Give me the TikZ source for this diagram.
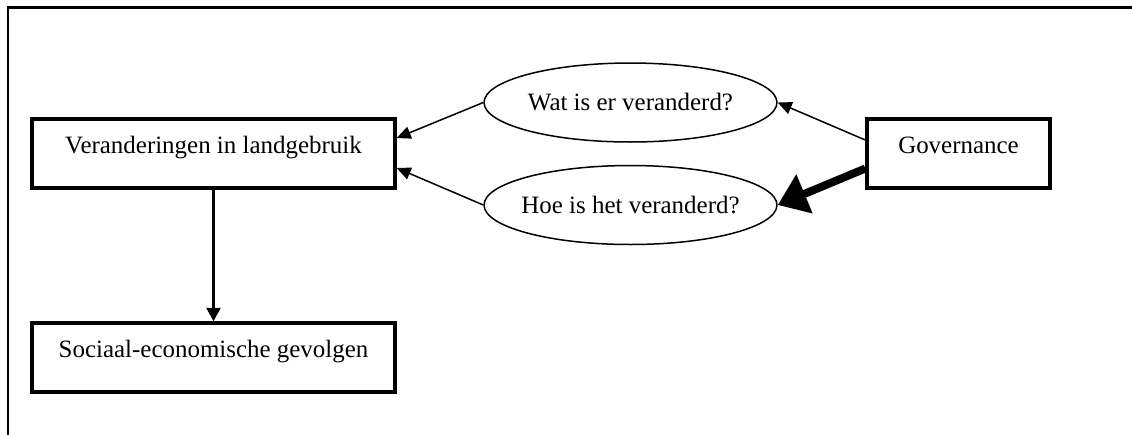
\documentclass[tikz,border=0pt]{standalone}
\usepackage{fontspec}
\setmainfont{Liberation Serif}
\usepackage{tikz}
\usetikzlibrary{shapes.geometric,arrows.meta}

\begin{document}
\begin{tikzpicture}[x=0.02cm, y=-0.02cm,
    box/.style={draw, line width=0.07cm, minimum width=7.26cm, minimum height=1.38cm,
      inner sep=0pt, text height=0.3cm, text depth=0.3cm},
    vraag/.style={draw, ellipse, line width=0.03cm, minimum width=5.86cm, minimum height=1.58cm, inner sep=0pt},
    pijl/.style={line width=0.03cm, -{Triangle[length=0.28cm, width=0.25cm]}},
    dikkepijl/.style={line width=0.16cm, -{Triangle[length=0.58cm, width=0.81cm]}},
    font=\fontsize{14.2}{17}\selectfont]
  \useasboundingbox (0,0) rectangle (1132,434);
  % Draw the frame (only top and left border are in view)
  \draw[line width=0.06cm] (8,440) -- (8,7) -- (1140,7);

  \node[box] (landgebruik) at (213.5,153.5) {Veranderingen in landgebruik};
  \node[box] (gevolgen) at (213.5,357.5) {Sociaal-economische gevolgen};
  \node[box, minimum width=3.66cm] (governance) at (958.5,153.5) {Governance};
  \node[vraag] (wat) at (630.5,102.5) {Wat is er veranderd?};
  \node[vraag, inner xsep=-0.13cm] (hoe) at (630.5,205) {Hoe is het veranderd?};

  \draw[pijl] (wat.west) -- ([yshift=0.31cm]landgebruik.east);
  \draw[pijl] (hoe.west) -- ([yshift=-0.29cm]landgebruik.east);
  \draw[pijl] ([yshift=0.27cm]governance.west) -- (wat.east);
  \draw[dikkepijl] ([yshift=-0.3cm]governance.west) -- (hoe.east);
  \draw[line width=0.05cm, -{Triangle[length=0.27cm, width=0.28cm]}] (landgebruik) -- (gevolgen);
\end{tikzpicture}
\end{document}
